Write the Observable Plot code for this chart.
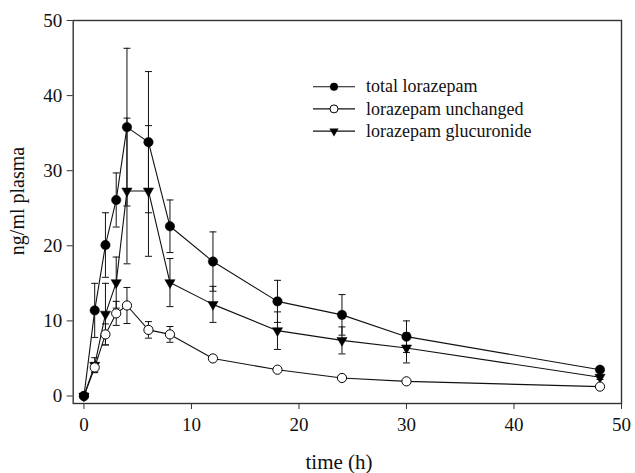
<!DOCTYPE html>
<html><head><meta charset="utf-8">
<script src="https://cdn.jsdelivr.net/npm/d3@7"></script>
<script src="https://cdn.jsdelivr.net/npm/@observablehq/plot@0.6"></script>
<style>body{margin:0;background:#fff}</style>
</head><body><div id="chart"></div>
<script>
const times = [0, 1, 2, 3, 4, 6, 8, 12, 18, 24, 30, 48];
const totalMean = [0, 11.4, 20.1, 26.1, 35.8, 33.8, 22.6, 17.9, 12.6, 10.8, 7.9, 3.5];
const totalSD = [0, 3.6, 4.3, 3.6, 10.5, 9.4, 3.5, 3.95, 2.8, 2.7, 2.1, 0.3];
const unchangedMean = [0, 3.8, 8.2, 11.0, 12.05, 8.8, 8.2, 5.0, 3.5, 2.4, 1.95, 1.25];
const unchangedSD = [0, 0.6, 1.4, 1.6, 2.4, 1.1, 1.05, 0, 0, 0, 0, 0];
const glucMean = [0, 4.1, 10.9, 15.1, 27.3, 27.3, 15.1, 12.2, 8.7, 7.4, 6.4, 2.5];
const glucSD = [0, 1.0, 4.1, 3.4, 9.7, 8.7, 3.2, 2.4, 2.5, 1.8, 2.0, 0.3];
const seriesNames = ["total lorazepam", "lorazepam unchanged", "lorazepam glucuronide"];
const xTicks = [0, 10, 20, 30, 40, 50];
const yTicks = [0, 10, 20, 30, 40, 50];
const xTitle = "time (h)";
const yTitle = "ng/ml plasma";

const series = [
  {name: seriesNames[0], mean: totalMean, sd: totalSD},
  {name: seriesNames[1], mean: unchangedMean, sd: unchangedSD},
  {name: seriesNames[2], mean: glucMean, sd: glucSD}
];
const rows = [];
series.forEach(s => times.forEach((t, i) => rows.push({series: s.name, t, m: s.mean[i], e: s.sd[i]})));
const bars = rows.filter(d => d.e > 0);
const bySeries = name => rows.filter(d => d.series === name);

const capSymbol = {draw(ctx, size) { const w = Math.sqrt(size / Math.PI); ctx.moveTo(-w, 0); ctx.lineTo(w, 0); }};
const FONT = "'Liberation Serif', 'Times New Roman', serif";
const INK = "#111";

const plot = Plot.plot({
  width: 635, height: 473,
  marginLeft: 72.7, marginRight: 14, marginTop: 20, marginBottom: 70,
  style: {fontFamily: FONT, fontSize: "19px", color: INK, background: "#fff"},
  x: {domain: [-1, 50]},
  y: {domain: [-1, 50]},
  marks: [
    Plot.frame({stroke: "#333", strokeWidth: 1.4}),
    Plot.axisX({ticks: xTicks, tickSize: 6, tickPadding: 8, label: null, fontSize: 19, stroke: "#333"}),
    Plot.axisY({ticks: yTicks, tickSize: 6, tickPadding: 5, label: null, fontSize: 19, stroke: "#333"}),
    Plot.ruleX(bars, {x: "t", y1: d => d.m - d.e, y2: d => d.m + d.e, stroke: INK, strokeWidth: 1}),
    Plot.dot(bars, {x: "t", y: d => d.m + d.e, symbol: capSymbol, r: 3.5, stroke: INK, fill: "none", strokeWidth: 1}),
    Plot.dot(bars, {x: "t", y: d => d.m - d.e, symbol: capSymbol, r: 3.5, stroke: INK, fill: "none", strokeWidth: 1}),
    Plot.line(rows, {x: "t", y: "m", z: "series", stroke: INK, strokeWidth: 1.1}),
    Plot.dot(bySeries(seriesNames[2]), {x: "t", y: "m", symbol: "triangle", rotate: 180, r: 3.8, fill: "#000", stroke: "#000", strokeWidth: 0.5}),
    Plot.dot(bySeries(seriesNames[1]), {x: "t", y: "m", r: 4.6, fill: "#fff", stroke: "#000", strokeWidth: 1}),
    Plot.dot(bySeries(seriesNames[0]), {x: "t", y: "m", r: 4.7, fill: "#000", stroke: "#000", strokeWidth: 0.5})
  ]
});

const svg = d3.select(plot);

// axis titles
svg.append("text").attr("x", 339).attr("y", 469).attr("text-anchor", "middle")
  .attr("font-family", FONT).attr("font-size", 21).attr("fill", INK).text(xTitle);
svg.append("text").attr("transform", "translate(18,201) rotate(-90)").attr("text-anchor", "middle")
  .attr("dy", "0.32em").attr("font-family", FONT).attr("font-size", 20).attr("fill", INK).text(yTitle);

// legend inside the plot area
const lg = svg.append("g").attr("font-family", FONT).attr("font-size", 18).attr("fill", INK).attr("text-anchor", "start");
const lx0 = 313, lx1 = 355, lxm = 334, ly0 = 86.7, lstep = 22.2, ltx = 366;
seriesNames.forEach((name, i) => {
  const y = ly0 + i * lstep;
  lg.append("line").attr("x1", lx0).attr("x2", lx1).attr("y1", y).attr("y2", y).attr("stroke", INK).attr("stroke-width", 1.1);
  if (i === 0) {
    lg.append("circle").attr("cx", lxm).attr("cy", y).attr("r", 4).attr("fill", "#000");
  } else if (i === 1) {
    lg.append("circle").attr("cx", lxm).attr("cy", y).attr("r", 4).attr("fill", "#fff").attr("stroke", "#000");
  } else {
    lg.append("path").attr("d", d3.symbol(d3.symbolTriangle, Math.PI * 3.4 * 3.4)())
      .attr("transform", `translate(${lxm},${y}) rotate(180)`).attr("fill", "#000");
  }
  lg.append("text").attr("x", ltx).attr("y", y).attr("dy", "0.32em").attr("text-anchor", "start").text(name);
});

document.getElementById("chart").appendChild(plot);
</script>
</body></html>
